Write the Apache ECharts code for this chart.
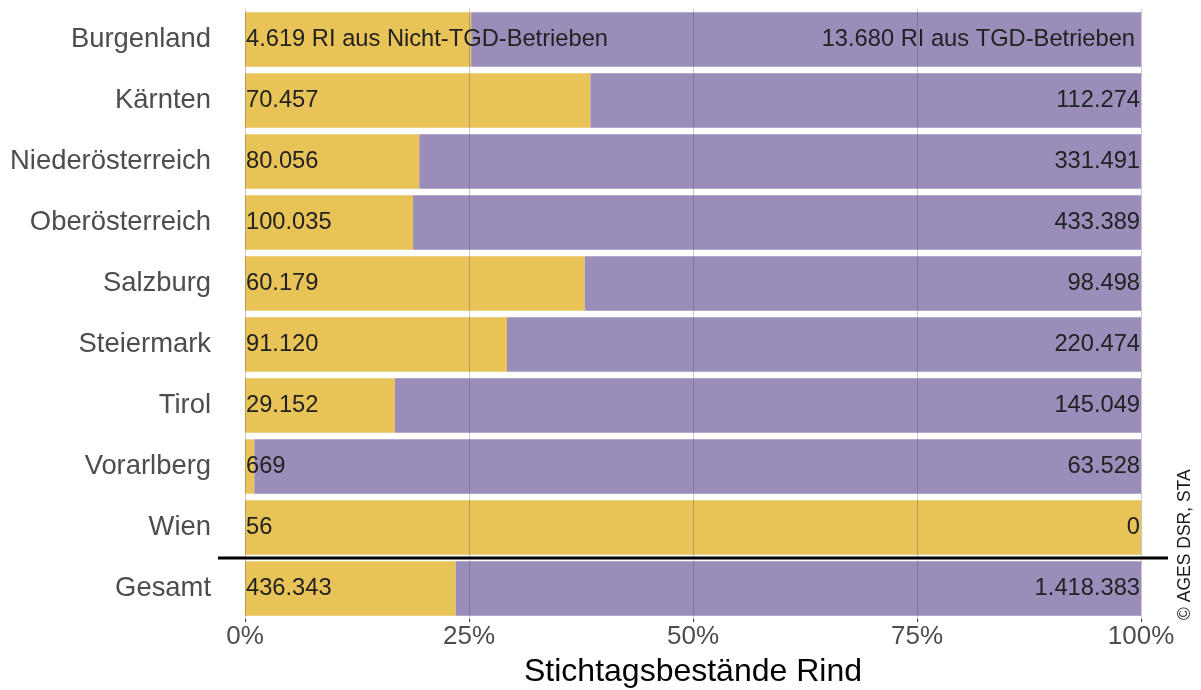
<!DOCTYPE html>
<html>
<head>
<meta charset="utf-8">
<script src="https://cdn.jsdelivr.net/npm/echarts@6/dist/echarts.min.js"></script>
<style>
html,body{margin:0;padding:0;background:#fff;}
#chart{width:1201px;height:690px;}
</style>
</head>
<body>
<div id="chart"></div>
<script>
const categories = ['Burgenland','Kärnten','Niederösterreich','Oberösterreich','Salzburg','Steiermark','Tirol','Vorarlberg','Wien','Gesamt'];
const nichtTGD = [4619, 70457, 80056, 100035, 60179, 91120, 29152, 669, 56, 436343];
const tgd = [13680, 112274, 331491, 433389, 98498, 220474, 145049, 63528, 0, 1418383];
const xTicks = [0, 25, 50, 75, 100];
const axisTitle = 'Stichtagsbestände Rind';
const source = '© AGES DSR, STA';

const FONT = '"Liberation Sans", Arial, sans-serif';
function fmt(n){ return String(n).replace(/\B(?=(\d{3})+(?!\d))/g, '.'); }
const totals = nichtTGD.map((v,i)=> v + tgd[i]);
const shareN = nichtTGD.map((v,i)=> v / totals[i] * 100);
const shareT = tgd.map((v,i)=> v / totals[i] * 100);
const dataT = shareT.map((v,i)=> i === 0 ? {value: v, label: {distance: 6}} : v);

const chart = echarts.init(document.getElementById('chart'), null, {renderer:'canvas'});
const option = {
  animation: false,
  backgroundColor: '#ffffff',
  grid: {left: 245, right: 60, top: 9, bottom: 71, containLabel: false, outerBoundsMode: 'none'},
  xAxis: {
    type: 'value', min: xTicks[0], max: xTicks[xTicks.length-1], interval: 25, z: 10,
    axisLine: {show: false},
    axisTick: {show: true, length: 3, lineStyle: {color: '#333'}},
    axisLabel: {formatter: '{value}%', fontSize: 26, color: '#4d4d4d', fontFamily: FONT, margin: 5},
    splitLine: {show: true, lineStyle: {color: 'rgba(80,70,100,0.3)', width: 1}},
    name: axisTitle, nameLocation: 'middle', nameGap: 37,
    nameTextStyle: {fontSize: 32, color: '#000', fontFamily: FONT}
  },
  yAxis: {
    type: 'category', data: categories, inverse: true,
    axisLine: {show: false}, axisTick: {show: false},
    axisLabel: {fontSize: 27.4, color: '#4d4d4d', fontFamily: FONT, margin: 34},
    splitLine: {show: false}
  },
  series: [
    {
      name: 'Nicht-TGD', type: 'bar', stack: 'a', data: shareN, barCategoryGap: '11%',
      itemStyle: {color: '#E8C358'},
      label: {show: true, position: 'insideLeft', distance: 1, fontSize: 23.7, color: '#222', fontFamily: FONT,
        formatter: p => p.dataIndex === 0 ? fmt(nichtTGD[0]) + ' RI aus Nicht-TGD-Betrieben' : fmt(nichtTGD[p.dataIndex])}
    },
    {
      name: 'TGD', type: 'bar', stack: 'a', data: dataT, barCategoryGap: '11%',
      itemStyle: {color: '#9B8DBA'},
      label: {show: true, position: 'insideRight', distance: 1, fontSize: 23.7, color: '#222', fontFamily: FONT,
        formatter: p => p.dataIndex === 0 ? fmt(tgd[0]) + ' RI aus TGD-Betrieben' : fmt(tgd[p.dataIndex])}
    }
  ]
};
chart.setOption(option);

// separator line between Wien and Gesamt, plus source note
const yW = chart.convertToPixel({yAxisIndex: 0}, 'Wien');
const yG = chart.convertToPixel({yAxisIndex: 0}, 'Gesamt');
const ySep = (yW + yG) / 2;
const x0 = chart.convertToPixel({xAxisIndex: 0}, 0);
const x1 = chart.convertToPixel({xAxisIndex: 0}, 100);
chart.setOption({
  graphic: [
    {type: 'line', z: 100, shape: {x1: x0 - 27, y1: ySep, x2: x1 + 27, y2: ySep}, style: {stroke: '#000', lineWidth: 3}},
    {type: 'text', z: 100, x: 1185, y: 620, rotation: Math.PI/2,
     style: {text: source, fontSize: 17.5, fill: '#1a1a1a', fontFamily: FONT, textAlign: 'left', textVerticalAlign: 'middle'}}
  ]
});
</script>
</body>
</html>
